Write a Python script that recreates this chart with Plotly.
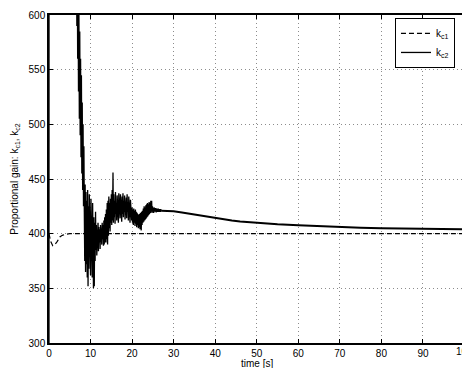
import plotly.graph_objects as go

# Controller gain k_c1 (reference gain, dashed)
t_kc1 = [0, 0.4, 0.9, 1.4, 2.0, 2.6, 3.2, 4.0, 5.0, 6.0, 100]
kc1 = [400, 393, 389, 390, 393, 397, 398.5, 399.5, 400, 400, 400]

# Controller gain k_c2 (adaptive gain): start-up, off-scale above 600
t_kc2_start = [0, 0.02, 3.0, 6.5]
kc2_start = [300, 1200, 900, 640]

# Transient 6.6 s .. 27.0 s, sampled every 0.1 s
t_kc2_trans = [round(6.6 + 0.1 * i, 1) for i in range(205)]
kc2_trans = [
    680, 590, 655, 560, 625, 530, 600, 505, 585, 490,
    560, 470, 545, 455, 520, 440, 500, 425, 480, 420,
    375, 445, 365, 438, 372, 430, 360, 440, 352, 425,
    368, 436, 378, 420, 362, 432, 375, 418, 360, 428,
    380, 350, 415, 352, 410, 375, 420, 385, 408, 380,
    405, 388, 410, 384, 406, 392, 404, 386, 408, 394,
    404, 390, 410, 395, 408, 389, 412, 390, 415, 392,
    418, 392, 422, 395, 428, 390, 430, 398, 434, 405,
    428, 402, 432, 410, 436, 408, 440, 412, 456, 410,
    436, 415, 430, 409, 438, 418, 428, 412, 435, 420,
    432, 410, 437, 418, 430, 414, 436, 420, 428, 411,
    434, 418, 437, 415, 430, 420, 435, 413, 428, 419,
    433, 414, 436, 420, 429, 412, 434, 418, 427, 410,
    431, 416, 426, 412, 424, 410, 422, 408, 423, 410,
    421, 407, 422, 409, 420, 406, 419, 408, 418, 405,
    417, 406, 418, 404, 419, 406, 403, 420, 408, 421,
    410, 423, 411, 425, 412, 424, 413, 426, 414, 427,
    415, 428, 416, 427, 417, 429, 418, 428, 419, 430,
    420, 430, 419, 425, 420, 424, 419, 424, 420, 423.5,
    420, 423.5, 419.5, 423, 420, 423, 420, 423, 420, 422.5,
    420, 422.5, 420, 422.5, 420.5,
]

# Slow settling 27 s .. 100 s
t_kc2_tail = [27, 28, 29, 30, 32, 34, 36, 38, 40, 42, 44, 46, 48, 50,
              55, 60, 65, 70, 75, 80, 85, 90, 95, 100]
kc2_tail = [421, 421, 420.8, 420.5, 419.3, 418, 416.6, 415.2, 414, 413, 412,
            411.2, 410.5, 410, 408.6, 407.6, 406.7, 406, 405.5, 405, 404.7,
            404.5, 404.2, 404]

X_MAX = 99.4          # right edge of the visible time window
x_ticks = [0, 10, 20, 30, 40, 50, 60, 70, 80, 90]
x_last_tick = 100     # just past the window edge; label drawn separately
y_ticks = [300, 350, 400, 450, 500, 550, 600]

FONT = "Liberation Sans, Arial, Helvetica, sans-serif"

fig = go.Figure()
fig.add_trace(go.Scatter(
    x=t_kc1, y=kc1, mode="lines", name="k<sub>c1</sub>",
    line=dict(color="black", width=1.2, dash="5px,3px"),
))
fig.add_trace(go.Scatter(
    x=t_kc2_start + t_kc2_trans, y=kc2_start + kc2_trans, mode="lines",
    name="k<sub>c2</sub>", legendgroup="kc2",
    line=dict(color="black", width=1.3),
))
fig.add_trace(go.Scatter(
    x=t_kc2_tail, y=kc2_tail, mode="lines", name="k<sub>c2</sub>",
    legendgroup="kc2", showlegend=False,
    line=dict(color="black", width=2),
))

axis_common = dict(
    showline=True, linecolor="black", linewidth=1.5,
    ticks="inside", ticklen=4, tickcolor="black", tickwidth=1,
    showgrid=True, gridcolor="#8c8c8c", gridwidth=1, griddash="1px,3px",
    zeroline=False, tickfont=dict(family=FONT, size=10, color="black"),
)

fig.update_layout(
    width=462, height=368,
    margin=dict(l=49, r=0, t=15, b=25),
    paper_bgcolor="white", plot_bgcolor="white",
    font=dict(family=FONT, size=10, color="black"),
    showlegend=True,
    legend=dict(
        x=0.983, y=0.991, xanchor="right", yanchor="top",
        bgcolor="white", bordercolor="black", borderwidth=1,
        font=dict(family=FONT, size=10, color="black"),
        tracegroupgap=0, itemwidth=30,
    ),
    xaxis=dict(
        range=[0, X_MAX], tickvals=x_ticks, mirror="ticks",
        automargin=False, **axis_common,
    ),
    yaxis=dict(
        range=[300, 600], tickvals=y_ticks, mirror=False,
        title=dict(text="Proportional gain: k<sub>c1</sub>, k<sub>c2</sub>",
                   standoff=8, font=dict(family=FONT, size=10)),
        automargin=False, **axis_common,
    ),
    annotations=[
        # label of the 100 s tick, which sits just past the window edge
        dict(
            x=x_last_tick / X_MAX, xref="paper", y=0, yref="paper",
            text=str(x_last_tick), showarrow=False,
            xanchor="center", yanchor="top", yshift=-1,
            font=dict(family=FONT, size=10, color="black"),
        ),
        # x-axis title, placed under the tick labels
        dict(
            x=50 / X_MAX, xref="paper", y=0, yref="paper",
            text="time [s]", showarrow=False,
            xanchor="center", yanchor="top", yshift=-13,
            font=dict(family=FONT, size=10, color="black"),
        ),
    ],
)

fig.write_html("out.html")
